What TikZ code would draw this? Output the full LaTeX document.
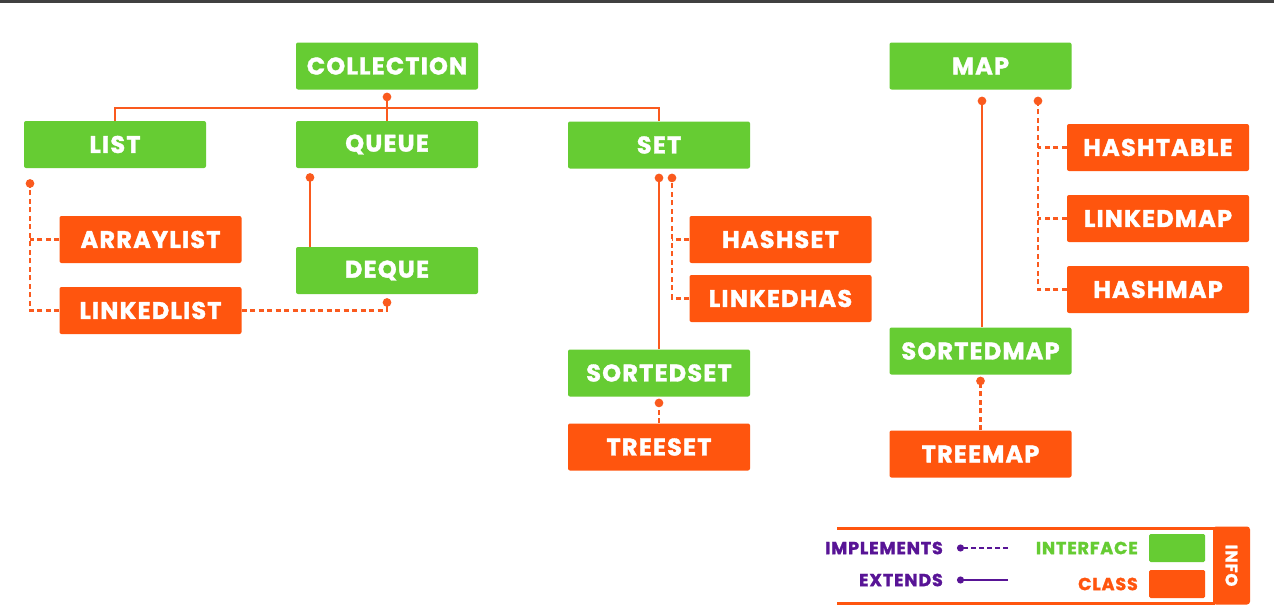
\documentclass[tikz,border=0pt]{standalone}
\usepackage{fontspec}
\setmainfont{Poppins}
\newfontfamily\wfont{Poppins}[LetterSpace=5,BoldFeatures={FakeBold=1.5}]
\usetikzlibrary{arrows.meta}
\definecolor{igreen}{RGB}{102,204,51}
\definecolor{corange}{RGB}{255,85,14}
\definecolor{lorange}{RGB}{250,90,30}
\definecolor{lpurple}{RGB}{88,20,150}
\begin{document}
\begin{tikzpicture}[x=1pt,y=-1pt,
  box/.style={minimum width=182pt,minimum height=47pt,inner sep=0pt,rounded corners=2pt,
    text=white,font=\wfont\fontsize{24}{24}\selectfont\bfseries},
  iface/.style={box,fill=igreen},
  cls/.style={box,fill=corange},
  ext/.style={draw=lorange,line width=2.4pt,-{Circle[length=8.5pt,width=8.5pt]}},
  impl/.style={ext,dash pattern=on 5pt off 3.5pt},
  plain/.style={draw=lorange,line width=2.4pt},
  pdash/.style={plain,dash pattern=on 5pt off 3.5pt},
  legtxt/.style={anchor=east,inner sep=0pt,font=\wfont\fontsize{17.5}{17.5}\selectfont\bfseries}]
\fill[white] (0,0) rectangle (1274,613);
\fill[black!75] (0,0) rectangle (1274,2.5);
% nodes
\node[iface] (COLLECTION) at (387,66) {COLLECTION};
\node[iface] (LIST) at (115,144.5) {LIST};
\node[iface] (QUEUE) at (387,144.5) {QUEUE};
\node[iface] (SET) at (659,145) {SET};
\node[cls] (ARRAYLIST) at (150.5,239.5) {ARRAYLIST};
\node[cls] (LINKEDLIST) at (150.5,310.5) {LINKEDLIST};
\node[iface] (DEQUE) at (387,270.5) {DEQUE};
\node[cls] (HASHSET) at (780.5,239.5) {HASHSET};
\node[cls] (LINKEDHAS) at (780.5,298.5) {LINKEDHAS};
\node[iface] (SORTEDSET) at (659,373) {SORTEDSET};
\node[cls] (TREESET) at (659,447) {TREESET};
\node[iface] (MAP) at (980.5,66) {MAP};
\node[cls] (HASHTABLE) at (1158,147.5) {HASHTABLE};
\node[cls] (LINKEDMAP) at (1158,218.5) {LINKEDMAP};
\node[cls] (HASHMAP) at (1158,289.5) {HASHMAP};
\node[iface] (SORTEDMAP) at (980.5,351) {SORTEDMAP};
\node[cls] (TREEMAP) at (980.5,454) {TREEMAP};
% collection tree
\coordinate (bus) at (0,108);
\draw[ext] (QUEUE.north) -- ([yshift=-3pt]COLLECTION.south);
\draw[plain] (LIST.north) -- (LIST.north |- bus) -| (SET.north);
% list
\coordinate (lx) at (30,0);
\draw[impl] (LINKEDLIST.west) -| ([yshift=-11pt]LIST.south -| lx);
\draw[pdash] (ARRAYLIST.west) -- (ARRAYLIST.west -| lx);
% queue
\draw[ext] ([xshift=-77pt]DEQUE.north) -- ([xshift=-77pt,yshift=-5pt]QUEUE.south);
\draw[impl] (LINKEDLIST.east) -| ([yshift=-4pt]DEQUE.south);
% set
\draw[ext] (SORTEDSET.north) -- ([yshift=-5pt]SET.south);
\coordinate (sx) at (672,0);
\draw[impl] (LINKEDHAS.west) -| ([yshift=-5pt]SET.south -| sx);
\draw[pdash] (HASHSET.west) -- (HASHSET.west -| sx);
\draw[impl] (TREESET.north) -- ([yshift=-2pt]SORTEDSET.south);
% map
\draw[ext] ([xshift=1.5pt]SORTEDMAP.north) -- ([xshift=1.5pt,yshift=-7pt]MAP.south);
\coordinate (mx) at (1038,0);
\draw[impl] (HASHMAP.west) -| ([yshift=-7pt]MAP.south -| mx);
\draw[pdash] (HASHTABLE.west) -- (HASHTABLE.west -| mx);
\draw[pdash] (LINKEDMAP.west) -- (LINKEDMAP.west -| mx);
\draw[impl] (TREEMAP.north) -- ([yshift=-2pt]SORTEDMAP.south);
% legend
\draw[corange,line width=3pt] (837,528) -- (1215,528);
\draw[corange,line width=3pt] (837,603) -- (1215,603);
\fill[corange,rounded corners=3pt] (1213,526.5) rectangle (1250,604.5);
\node[rotate=-90,text=white,inner sep=0pt,font=\wfont\fontsize{16.5}{16.5}\selectfont\bfseries] (INFO) at (1231.5,565.5) {INFO};
\node[fill=igreen,minimum width=56pt,minimum height=28pt,inner sep=0pt,rounded corners=1.5pt] (gsq) at (1177,548) {};
\node[fill=corange,minimum width=56pt,minimum height=28pt,inner sep=0pt,rounded corners=1.5pt] (osq) at (1177,584) {};
\node[legtxt,text=igreen] (tint) at (1138,548) {INTERFACE};
\node[legtxt,text=corange] (tcls) at (1138,584) {CLASS};
\node[legtxt,text=lpurple] (timp) at (943,548) {IMPLEMENTS};
\node[legtxt,text=lpurple] (text) at (943,580) {EXTENDS};
\coordinate (ia) at (1008,548);
\coordinate (ib) at (957,548);
\coordinate (ea) at (1008,580);
\coordinate (eb) at (957,580);
\draw[lpurple,line width=2pt,dash pattern=on 5pt off 3pt,-{Circle[length=7pt,width=7pt]}] (ia) -- (ib);
\draw[lpurple,line width=2pt,-{Circle[length=7pt,width=7pt]}] (ea) -- (eb);
\end{tikzpicture}
\end{document}
